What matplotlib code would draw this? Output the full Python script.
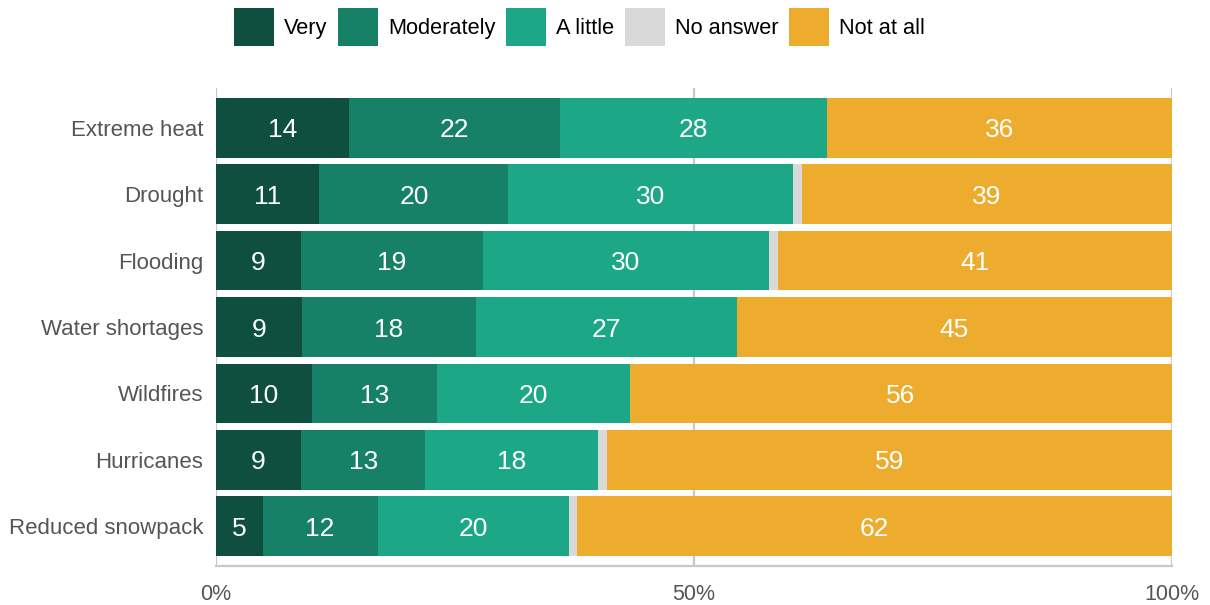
import numpy as np
import matplotlib.pyplot as plt
from matplotlib.patches import Patch

plt.rcParams['font.family'] = ['Liberation Sans', 'DejaVu Sans']

# Data (shares in %)
categories = ['Extreme heat', 'Drought', 'Flooding', 'Water shortages',
              'Wildfires', 'Hurricanes', 'Reduced snowpack']
very = [13.9, 10.8, 8.9, 9.0, 10.0, 8.9, 4.9]
moderately = [22.1, 19.8, 19.0, 18.2, 13.1, 13.0, 12.0]
a_little = [27.9, 29.8, 30.0, 27.3, 20.2, 18.1, 20.0]
no_answer = [0.0, 0.9, 0.9, 0.0, 0.0, 0.9, 0.9]
not_at_all = [36.1, 38.7, 41.2, 45.5, 56.7, 59.1, 62.2]

# Printed labels
very_lbl = [14, 11, 9, 9, 10, 9, 5]
moderately_lbl = [22, 20, 19, 18, 13, 13, 12]
a_little_lbl = [28, 30, 30, 27, 20, 18, 20]
not_at_all_lbl = [36, 39, 41, 45, 56, 59, 62]

series = [
    ('Very', very, very_lbl, '#0f4f40'),
    ('Moderately', moderately, moderately_lbl, '#168167'),
    ('A little', a_little, a_little_lbl, '#1ca886'),
    ('No answer', no_answer, None, '#d9d9d9'),
    ('Not at all', not_at_all, not_at_all_lbl, '#edac2e'),
]

fig = plt.figure(figsize=(12.1, 6.05), dpi=100)
ax = fig.add_axes([0.1785, 0.0645, 0.79, 0.79])

y = np.arange(len(categories))
left = np.zeros(len(categories))
for name, vals, lbls, color in series:
    vals = np.array(vals)
    ax.barh(y, vals, left=left, height=0.9, color=color, zorder=3)
    if lbls is not None:
        for yi, l, v, t in zip(y, left, vals, lbls):
            ax.text(l + v / 2, yi, str(t), ha='center', va='center_baseline',
                    color='white', fontsize=19, zorder=4)
    left = left + vals

ax.set_xlim(0, 100)
ax.set_ylim(len(categories) - 0.4, -0.6)
ax.set_yticks(y)
ax.set_yticklabels(categories, fontsize=16, color='#555555')
ax.set_xticks([0, 50, 100])
ax.set_xticklabels(['0%', '50%', '100%'], fontsize=15.5, color='#555555')
ax.tick_params(axis='y', length=0, pad=9)
ax.tick_params(axis='x', length=0, pad=13)
ax.grid(axis='x', color='#c8c8c8', linewidth=1.6, zorder=1)
for s in ['top', 'right', 'left']:
    ax.spines[s].set_visible(False)
ax.spines['bottom'].set_color('#c8c8c8')
ax.spines['bottom'].set_linewidth(1.6)

handles = [Patch(facecolor=c, edgecolor='none', label=n) for n, _, _, c in series]
fig.legend(handles=handles, loc='upper center', bbox_to_anchor=(0.479, 1.019),
           ncol=5, frameon=False, fontsize=15.7, handlelength=1.83,
           handleheight=2.33, handletextpad=0.45, columnspacing=0.5)

fig.savefig('out.png', dpi=100)
